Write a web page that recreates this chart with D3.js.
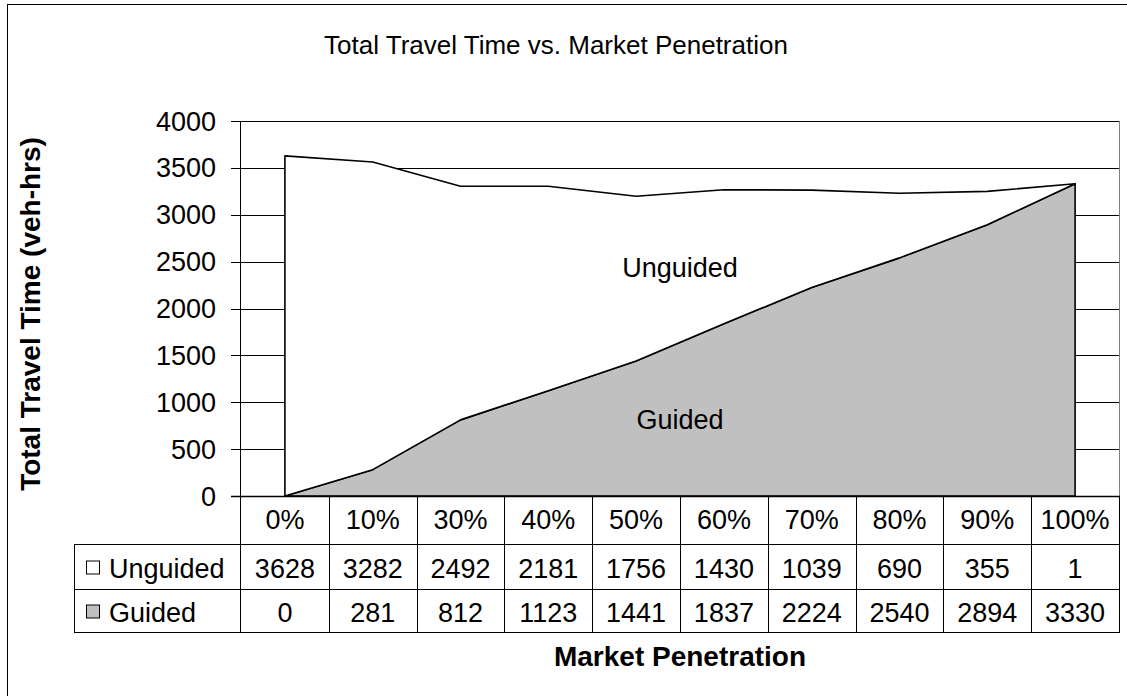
<!DOCTYPE html>
<html><head><meta charset="utf-8">
<script src="https://cdn.jsdelivr.net/npm/d3@7"></script>
<style>body{margin:0;background:#fff}svg{display:block;font-family:"Liberation Sans",Arial,sans-serif}</style>
</head><body>
<svg id="c" width="1127" height="696"></svg>
<script>
const categories = ["0%","10%","30%","40%","50%","60%","70%","80%","90%","100%"];
const unguided = [3628,3282,2492,2181,1756,1430,1039,690,355,1];
const guided = [0,281,812,1123,1441,1837,2224,2540,2894,3330];
const yTicks = [0,500,1000,1500,2000,2500,3000,3500,4000];
const seriesNames = ["Unguided","Guided"];

const svg = d3.select("#c");
const L = 241, R = 1119, T = 121, B = 496;
const x = d3.scaleBand().domain(categories).range([L, R]);
const y = d3.scaleLinear().domain([0, 4000]).range([B, T]);
const cx = c => x(c) + x.bandwidth()/2;

// outer border (only left & top visible)
svg.append("rect").attr("x",7.5).attr("y",4.5).attr("width",1300).attr("height",900)
  .attr("fill","none").attr("stroke","#000");

// title
svg.append("text").attr("x",556).attr("y",54).attr("text-anchor","middle")
  .attr("font-size",26).text("Total Travel Time vs. Market Penetration");

// gridlines
svg.append("g").selectAll("line").data(yTicks.filter(d=>d>0)).join("line")
  .attr("x1",L-1).attr("x2",R).attr("y1",d=>Math.round(y(d))+0.5).attr("y2",d=>Math.round(y(d))+0.5)
  .attr("stroke","#000").attr("stroke-width",1);

// stacked areas
const rows = categories.map((c,i)=>({cat:c, guided:guided[i], unguided:unguided[i]}));
const stack = d3.stack().keys(["guided","unguided"])(rows);
const area = d3.area().x(d=>cx(d.data.cat)).y0(d=>y(d[0])).y1(d=>y(d[1]));
const fills = {guided:"#c0c0c0", unguided:"#ffffff"};
svg.append("g").selectAll("path").data(stack).join("path")
  .attr("d", s => area(s) )
  .attr("fill", s=>fills[s.key]).attr("stroke","#000").attr("stroke-width",1.6)
  .attr("stroke-linejoin","round");

// plot right border
svg.append("line").attr("x1",R+0.5).attr("x2",R+0.5).attr("y1",T).attr("y2",B)
  .attr("stroke","#808080");

// y axis
svg.append("line").attr("x1",L-0.5).attr("x2",L-0.5).attr("y1",T).attr("y2",632).attr("stroke","#000");
svg.append("g").selectAll("line").data(yTicks).join("line")
  .attr("x1",231).attr("x2",L).attr("y1",d=>Math.round(y(d))+0.5).attr("y2",d=>Math.round(y(d))+0.5)
  .attr("stroke","#000");
svg.append("g").selectAll("text").data(yTicks).join("text")
  .attr("x",216).attr("y",d=>y(d)+9.5).attr("text-anchor","end").attr("font-size",27).text(d=>d);

// axis line (bottom)
svg.append("line").attr("x1",231).attr("x2",R+1).attr("y1",B+0.5).attr("y2",B+0.5).attr("stroke","#000").attr("stroke-width",1.5);

// area labels
svg.append("text").attr("x",680).attr("y",277).attr("text-anchor","middle").attr("font-size",27).text("Unguided");
svg.append("text").attr("x",680).attr("y",429).attr("text-anchor","middle").attr("font-size",27).text("Guided");

// data table
const TL = 74, r1 = 544, r2 = 589, r3 = 632;
const tg = svg.append("g").attr("stroke","#000").attr("stroke-width",1);
[r1, r2, r3].forEach(yy => tg.append("line").attr("x1",TL).attr("x2",R+1).attr("y1",yy+0.5).attr("y2",yy+0.5));
tg.append("line").attr("x1",TL+0.5).attr("x2",TL+0.5).attr("y1",r1).attr("y2",r3+1);
tg.selectAll("line.v").data(categories).join("line").attr("class","v")
  .attr("x1",d=>Math.round(x(d)+x.bandwidth())+0.5).attr("x2",d=>Math.round(x(d)+x.bandwidth())+0.5)
  .attr("y1",B).attr("y2",r3+1);

svg.append("g").selectAll("text").data(categories).join("text")
  .attr("x",cx).attr("y",529).attr("text-anchor","middle").attr("font-size",27).text(d=>d);
svg.append("g").selectAll("text").data(unguided).join("text")
  .attr("x",(d,i)=>cx(categories[i])).attr("y",578).attr("text-anchor","middle").attr("font-size",27).text(d=>d);
svg.append("g").selectAll("text").data(guided).join("text")
  .attr("x",(d,i)=>cx(categories[i])).attr("y",622).attr("text-anchor","middle").attr("font-size",27).text(d=>d);

// legend keys in table
const keyFills = ["#ffffff","#c0c0c0"];
const keyY = [567.5, 611.5];
seriesNames.forEach((n,i)=>{
  svg.append("rect").attr("x",86.5).attr("y",keyY[i]-6.5).attr("width",13).attr("height",13)
    .attr("fill",keyFills[i]).attr("stroke","#000");
  svg.append("text").attr("x",109).attr("y",[578,622][i]).attr("font-size",27).text(n);
});

// axis titles
svg.append("text").attr("x",680).attr("y",666).attr("text-anchor","middle").attr("font-size",28)
  .attr("font-weight","bold").text("Market Penetration");
svg.append("text").attr("transform","translate(40,314) rotate(-90)").attr("text-anchor","middle")
  .attr("font-size",28).attr("font-weight","bold").text("Total Travel Time (veh-hrs)");
</script>
</body></html>
